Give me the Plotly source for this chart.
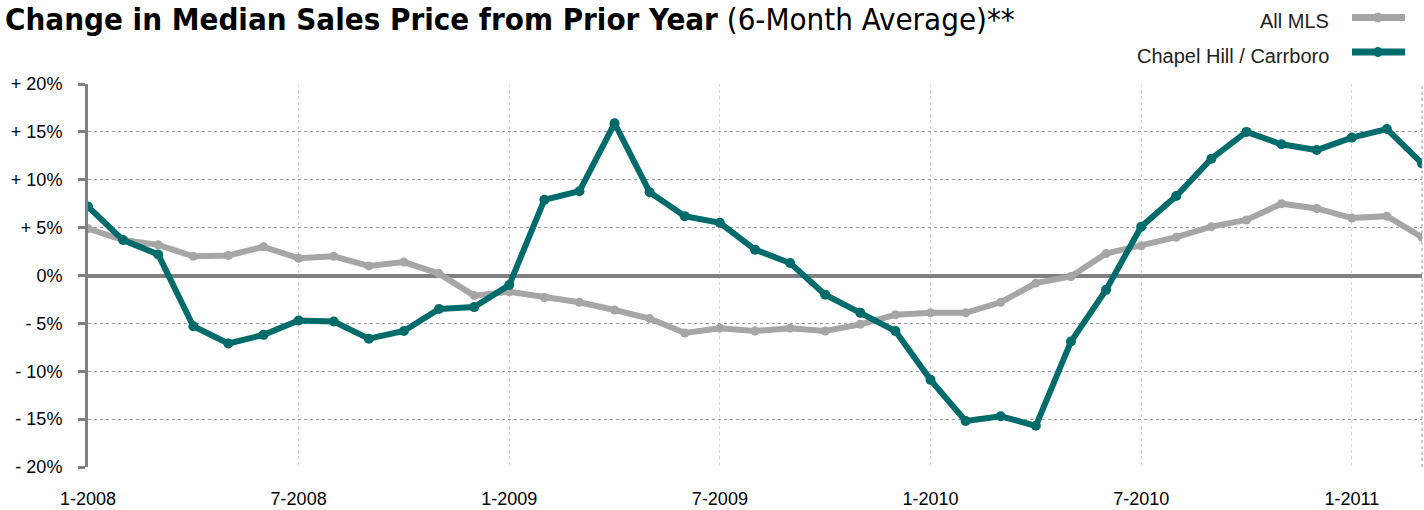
import plotly.graph_objects as go

months = ["1-2008","2-2008","3-2008","4-2008","5-2008","6-2008","7-2008","8-2008","9-2008","10-2008","11-2008","12-2008",
          "1-2009","2-2009","3-2009","4-2009","5-2009","6-2009","7-2009","8-2009","9-2009","10-2009","11-2009","12-2009",
          "1-2010","2-2010","3-2010","4-2010","5-2010","6-2010","7-2010","8-2010","9-2010","10-2010","11-2010","12-2010",
          "1-2011","2-2011","3-2011"]

all_mls = [4.9, 3.7, 3.2, 2.0, 2.1, 3.0, 1.8, 2.0, 1.0, 1.4, 0.2, -2.1,
           -1.7, -2.3, -2.8, -3.6, -4.5, -6.0, -5.5, -5.8, -5.5, -5.8, -5.1, -4.1,
           -3.9, -3.9, -2.8, -0.8, -0.1, 2.3, 3.1, 4.0, 5.1, 5.8, 7.5, 7.0,
           6.0, 6.2, 4.0]

chapel_hill = [7.2, 3.7, 2.2, -5.3, -7.1, -6.2, -4.7, -4.8, -6.6, -5.8, -3.5, -3.3,
               -1.0, 7.9, 8.8, 15.9, 8.7, 6.2, 5.5, 2.7, 1.3, -2.0, -3.9, -5.8,
               -10.9, -15.2, -14.7, -15.7, -6.9, -1.5, 5.1, 8.3, 12.2, 15.0, 13.7, 13.1,
               14.4, 15.3, 11.7]

y_ticks = [20, 15, 10, 5, 0, -5, -10, -15, -20]
y_tick_labels = ["+ 20%", "+ 15%", "+ 10%", "+ 5%", "0%", "- 5%", "- 10%", "- 15%", "- 20%"]
x_ticks = ["1-2008", "7-2008", "1-2009", "7-2009", "1-2010", "7-2010", "1-2011"]

GRAY = "#a6a6a6"
TEAL = "#006b6b"
AXIS = "#808080"
FONT = "Liberation Sans, Arial, Helvetica, sans-serif"
NARROW = "Liberation Sans Narrow, Arial Narrow, DejaVu Sans Condensed, sans-serif"

fig = go.Figure()
fig.add_trace(go.Scatter(x=months, y=all_mls, mode="lines+markers", name="All MLS",
                         line=dict(color=GRAY, width=6), marker=dict(color=GRAY, size=9)))
fig.add_trace(go.Scatter(x=months, y=chapel_hill, mode="lines+markers", name="Chapel Hill / Carrboro",
                         line=dict(color=TEAL, width=6), marker=dict(color=TEAL, size=10)))

W, H = 1424, 510
ML, MR, MT, MB = 88, 2, 84, 43
PW, PH = W - ML - MR, H - MT - MB

def px_x(px):
    return (px - ML) / PW

def px_y(py):
    return (H - MB - py) / PH

fig.update_layout(
    width=W, height=H,
    margin=dict(l=ML, r=MR, t=MT, b=MB, autoexpand=False),
    paper_bgcolor="white", plot_bgcolor="white",
    showlegend=False,
    font=dict(family=FONT, color="#000"),
)

fig.update_xaxes(
    type="category", categoryorder="array", categoryarray=months,
    range=[0, len(months) - 1],
    tickmode="array", tickvals=x_ticks, ticktext=x_ticks,
    tickfont=dict(size=18, family=FONT), ticks="", ticklabelstandoff=19,
    showgrid=True, gridcolor="#d8d8d8", gridwidth=1, griddash="dot",
    showline=False, zeroline=False,
)
fig.update_yaxes(
    range=[-20, 20], tickmode="array", tickvals=y_ticks, ticktext=y_tick_labels,
    tickfont=dict(size=18, family=FONT), ticks="outside", ticklen=7, tickwidth=3, tickcolor=AXIS,
    ticklabelstandoff=12,
    showgrid=True, gridcolor="#9a9a9a", gridwidth=1, griddash="dot",
    showline=True, linecolor=AXIS, linewidth=3,
    zeroline=True, zerolinecolor=AXIS, zerolinewidth=4,
)

# right frame border
fig.add_shape(type="line", xref="paper", yref="paper", x0=1, x1=1, y0=0, y1=1,
              line=dict(color="#9a9a9a", width=1, dash="dot"))

# title
fig.add_annotation(xref="paper", yref="paper", x=px_x(3), y=px_y(19), xanchor="left", yanchor="middle",
                   showarrow=False,
                   text="<b>Change in Median Sales Price from Prior Year</b> (6-Month Average)**",
                   font=dict(family=NARROW, size=31, color="#000"))

# custom legend (text left, sample right)
legend_items = [("All MLS", GRAY, 21, 17.5), ("Chapel Hill / Carrboro", TEAL, 56, 52)]
for label, color, ty, ly in legend_items:
    fig.add_annotation(xref="paper", yref="paper", x=px_x(1331), y=px_y(ty), xanchor="right", yanchor="middle",
                       showarrow=False, text=label, font=dict(family=FONT, size=20, color="#222"))
    fig.add_shape(type="line", xref="paper", yref="paper", x0=px_x(1352), x1=px_x(1405),
                  y0=px_y(ly), y1=px_y(ly), line=dict(color=color, width=7))
    fig.add_shape(type="circle", xref="paper", yref="paper", x0=px_x(1373.5), x1=px_x(1382.5),
                  y0=px_y(ly - 4.5), y1=px_y(ly + 4.5), line=dict(color=color, width=1), fillcolor=color)

fig.write_html("out.html", config={"displayModeBar": False},
               post_script="document.body.style.margin='0';document.body.style.padding='0';")
